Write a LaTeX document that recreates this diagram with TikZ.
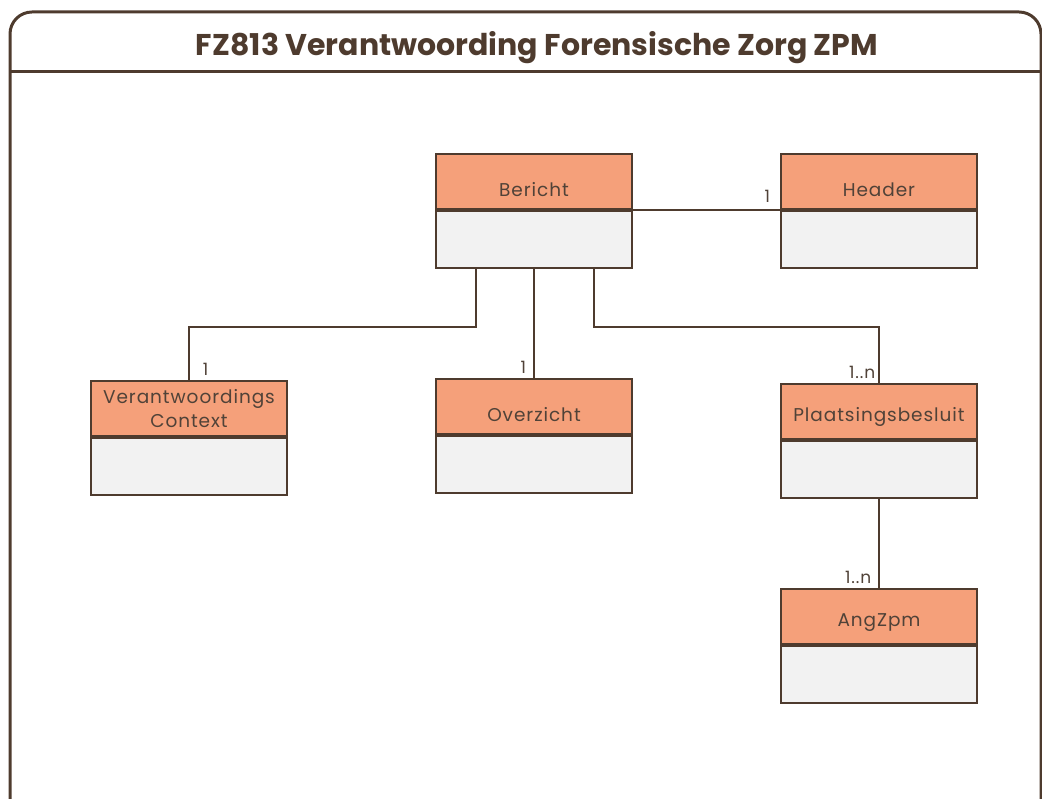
\documentclass[tikz,border=0pt]{standalone}
\usepackage{fontspec}
\setmainfont{Poppins}
\newfontfamily\klassefont{Poppins}[LetterSpace=5]
\usetikzlibrary{positioning}
\definecolor{rand}{RGB}{78,59,46}
\definecolor{kop}{RGB}{245,160,122}
\definecolor{romp}{RGB}{242,242,242}
\definecolor{tekst}{RGB}{80,66,56}

\begin{document}
\begin{tikzpicture}[x=1pt,y=1pt]
  \tikzset{kopvak/.style = {shape=rectangle,draw=rand,fill=kop,line width=2pt,minimum width=196pt,minimum height=55pt,inner sep=2pt,anchor=north west,text=tekst,font=\klassefont\fontsize{18.5}{24}\selectfont,align=center,text height=22pt,text depth=2pt}}
  \tikzset{laag/.style = {text height=30pt,text depth=0pt}}
  \tikzset{rompvak/.style = {shape=rectangle,draw=rand,fill=romp,line width=2pt,minimum width=196pt,minimum height=57pt,inner sep=0pt}}
  \tikzset{lijn/.style = {draw=rand,line width=1.7pt}}
  \tikzset{mult/.style = {text=tekst,font=\klassefont\fontsize{17}{19}\selectfont,inner sep=1pt}}
  \useasboundingbox (0,0) rectangle (1042,799);
  % frame and title
  \draw[rand,line width=3pt,rounded corners=22pt] (10,0) -- (10,787) -- (1041,787) -- (1041,-20);
  \draw[rand,line width=3pt] (10,727) -- (1042,727);
  \node[text=rand,font=\fontsize{30}{36}\selectfont\bfseries] (titel) at (537,751) {FZ813 Verantwoording Forensische Zorg ZPM};
  % classes
  \node[kopvak,laag] (bericht-h) at (435,646) {Bericht};
  \node[rompvak,below=0pt of bericht-h] (bericht-b) {};
  \node[kopvak,laag] (header-h) at (780,646) {Header};
  \node[rompvak,below=0pt of header-h] (header-b) {};
  \node[kopvak,text height=,text depth=] (context-h) at (90,419) {Verantwoordings\\Context};
  \node[rompvak,below=0pt of context-h] (context-b) {};
  \node[kopvak,laag] (overzicht-h) at (435,421) {Overzicht};
  \node[rompvak,below=0pt of overzicht-h] (overzicht-b) {};
  \node[kopvak] (besluit-h) at (780,416) {Plaatsingsbesluit};
  \node[rompvak,below=0pt of besluit-h] (besluit-b) {};
  \node[kopvak] (angzpm-h) at (780,211) {AngZpm};
  \node[rompvak,below=0pt of angzpm-h] (angzpm-b) {};

  % associations
  \draw[lijn] (bericht-h.south east) -- (header-h.south west)
    node[mult,pos=1,anchor=south east,xshift=-8pt,yshift=6pt] {1};
  \draw[lijn] ([xshift=-58pt]bericht-b.south) -- ++(0,-58) -| (context-h.north)
    node[mult,pos=1,anchor=south west,xshift=12pt,yshift=3pt] {1};
  \draw[lijn] ([xshift=60pt]bericht-b.south) -- ++(0,-58) -| (besluit-h.north)
    node[mult,pos=1,anchor=south east,xshift=-2pt,yshift=3pt] {1..n};
  \foreach \from/\to/\m in {bericht-b/overzicht-h/1,besluit-b/angzpm-h/1..n}
    \draw[lijn] (\from.south) -- (\to.north)
      node[mult,pos=1,anchor=south east,xshift=-6pt,yshift=3pt] {\m};
\end{tikzpicture}
\end{document}
